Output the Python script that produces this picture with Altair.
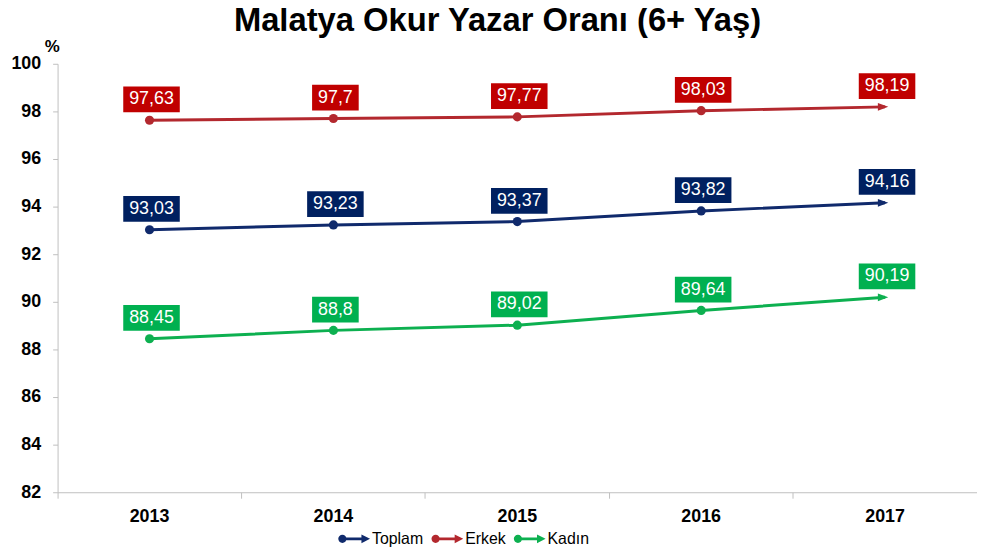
import altair as alt
import pandas as pd

years = ["2013", "2014", "2015", "2016", "2017"]
series = ["Toplam", "Erkek", "Kadın"]
toplam = [93.03, 93.23, 93.37, 93.82, 94.16]
erkek = [97.63, 97.70, 97.77, 98.03, 98.19]
kadin = [88.45, 88.80, 89.02, 89.64, 90.19]

line_colors = ["#102A6C", "#B3282E", "#0DB050"]
box_colors = ["#002060", "#C00000", "#00B050"]

rows = []
for name, vals in zip(series, [toplam, erkek, kadin]):
    for i, (y, v) in enumerate(zip(years, vals)):
        lab = f"{v:.2f}".rstrip("0").rstrip(".").replace(".", ",")
        rows.append({"year": y, "series": name, "value": v, "label": lab,
                     "last": i == len(years) - 1, "short": len(lab) <= 4})
df = pd.DataFrame(rows)

W, H = 927, 432

xenc = alt.X("year:O", sort=years,
             scale=alt.Scale(paddingInner=0, paddingOuter=0),
             axis=alt.Axis(title=None, labelAngle=0, bandPosition=0,
                           tickSize=6, tickColor="#BFBFBF", domainColor="#BFBFBF",
                           labelFontSize=18, labelFontWeight="bold", labelColor="#000000",
                           labelPadding=9, labelFont="Liberation Sans"))
yenc = alt.Y("value:Q", scale=alt.Scale(domain=[82, 100], nice=False, zero=False),
             axis=alt.Axis(title="%", titleAngle=0, titleX=-6, titleY=-17,
                           titleAlign="center", titleBaseline="middle",
                           titleFontSize=17, titleFontWeight="bold", titleFont="Liberation Sans",
                           values=list(range(82, 101, 2)), grid=False,
                           tickSize=5, tickColor="#BFBFBF", domainColor="#BFBFBF",
                           labelFontSize=18, labelFontWeight="bold", labelColor="#000000",
                           labelPadding=12, labelFont="Liberation Sans"))

line_scale = alt.Scale(domain=series, range=line_colors)
box_scale = alt.Scale(domain=series, range=box_colors)

legend_path = ("M-1,0 A0.26,0.26 0 1,1 -0.48,0 A0.26,0.26 0 1,1 -1,0 Z "
               "M-0.74,-0.09 L0.6,-0.09 L0.6,0.09 L-0.74,0.09 Z "
               "M0.46,-0.28 L1,0 L0.46,0.28 Z")
legend = alt.Legend(title=None, orient="none", legendX=283, legendY=463,
                    direction="horizontal", symbolType=legend_path,
                    symbolSize=1024, symbolStrokeWidth=0,
                    labelFontSize=16, labelFont="Liberation Sans",
                    labelColor="#000000", labelOffset=2,
                    columnPadding=8, padding=0)
color = alt.Color("series:N", scale=line_scale, legend=legend)

base = alt.Chart(df)

lines = base.mark_line(strokeWidth=3).encode(
    x=xenc, y=yenc, color=color, detail="series:N",
)

dots = base.transform_filter("!datum.last").mark_point(filled=True, size=85, opacity=1).encode(
    x=xenc, y=yenc, color=color,
)

arrows = base.transform_filter("datum.last").mark_point(
    filled=True, shape="M-1,-0.75 L1,0 L-1,0.75 Z", size=110, opacity=1, xOffset=-2).encode(
    x=xenc, y=yenc, color=color,
)

boxes_long = base.transform_filter("!datum.short").mark_bar(
    width=57, yOffset=-8, y2Offset=-34, xOffset=2).encode(
    x=xenc, y=yenc, y2="value:Q",
    fill=alt.Fill("series:N", scale=box_scale, legend=None),
)
boxes_short = base.transform_filter("datum.short").mark_bar(
    width=47, yOffset=-8, y2Offset=-34, xOffset=2).encode(
    x=xenc, y=yenc, y2="value:Q",
    fill=alt.Fill("series:N", scale=box_scale, legend=None),
)

texts = base.mark_text(color="white", fontSize=18, font="Liberation Sans",
                       dy=-21, dx=2, baseline="middle", align="center").encode(
    x=xenc, y=yenc, text="label:N",
)

chart = alt.layer(lines, dots, arrows, boxes_long, boxes_short, texts).resolve_scale(
    color="shared", fill="independent"
).properties(
    width=W, height=H,
    autosize=alt.AutoSizeParams(type="none"),
    padding={"left": 50, "top": 54, "right": 0, "bottom": 59},
    title=alt.TitleParams("Malatya Okur Yazar Oranı (6+ Yaş)", anchor="middle", dx=-20,
                          offset=0, fontSize=33, fontWeight="bold",
                          font="Liberation Sans", color="#000000"),
).configure_view(stroke=None)

chart.save("out.html", embed_options={"renderer": "svg", "actions": False})
